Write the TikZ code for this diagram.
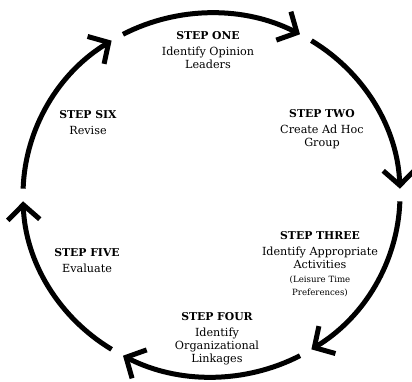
\documentclass[tikz,border=0pt]{standalone}
\usepackage{fontspec}
\setmainfont{DejaVu Serif}
\usetikzlibrary{arrows.meta}
\begin{document}
\begin{tikzpicture}[x=1pt,y=1pt,
  cyc/.style={line width=5pt,-{Straight Barb[length=15pt,width=32pt]}},
  lbl/.style={align=center,inner sep=0pt,anchor=north,font=\fontsize{11.2}{13}\selectfont},
  hd/.style={}
]
\useasboundingbox (0,0) rectangle (412,-382);
\coordinate (c) at (211.5,-195);
\foreach \s in {118,58,-2,-62,-122,178}{
  \draw[cyc] ([shift={(\s:188.5 and 182)}]c) arc[start angle=\s, delta angle=-56, x radius=188.5, y radius=182];
}
\newcommand\hdr[1]{{\fontsize{10.8}{13}\selectfont\bfseries #1}}
\node[lbl] (one) at (208,-31) {\hdr{STEP ONE}\\[3.5pt]Identify Opinion\\Leaders};
\node[lbl] (two) at (322,-109) {\hdr{STEP TWO}\\[3.5pt]Create Ad Hoc\\Group};
\node[lbl] (three) at (320,-231) {\hdr{STEP THREE}\\[3.5pt]Identify Appropriate\\Activities\\[1pt]{\fontsize{8.6}{13}\selectfont (Leisure Time}\\{\fontsize{8.6}{13}\selectfont Preferences)}};
\node[lbl] (four) at (217,-312) {\hdr{STEP FOUR}\\[3.5pt]Identify\\Organizational\\Linkages};
\node[lbl] (five) at (87,-248) {\hdr{STEP FIVE}\\[3.5pt]Evaluate};
\node[lbl] (six) at (88,-110) {\hdr{STEP SIX}\\[3.5pt]Revise};
\end{tikzpicture}
\end{document}
